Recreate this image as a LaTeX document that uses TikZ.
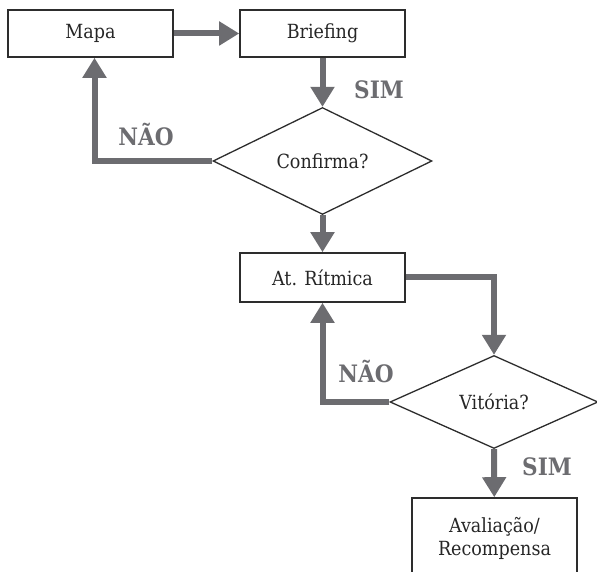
\documentclass[tikz,border=0pt]{standalone}
\usepackage{fontspec}
\setmainfont{DejaVu Serif Condensed}
\usepackage{tikz}
\usetikzlibrary{arrows.meta,calc,shapes.geometric}

\definecolor{flowgray}{RGB}{108,108,112}
\definecolor{edgegray}{RGB}{45,45,45}

\begin{document}
\begin{tikzpicture}[x=1pt,y=1pt,>={Triangle[width=23pt,length=20pt]},
    box/.style={draw=edgegray,line width=1.6pt,fill=white,text=black!85,
                minimum width=165pt,minimum height=47pt,inner sep=0pt,
                font=\fontsize{19.5}{23}\selectfont,align=center},
    decision/.style={diamond,draw=edgegray,line width=1.3pt,fill=white,text=black!85,
                inner sep=0pt,font=\fontsize{19.5}{23}\selectfont},
    flow/.style={->,draw=flowgray,line width=6pt},
    answer/.style={text=flowgray,font=\fontsize{24}{28}\selectfont\bfseries}]
  \useasboundingbox (0,0) rectangle (597,572);

  % blocks
  \node[box] (mapa) at (90.5,538.5) {Mapa};
  \node[box] (briefing) at (322.5,538.5) {Briefing};
  \node[decision,minimum width=219pt,minimum height=92pt] (confirma) at (322.5,411) {Confirma?};
  \node[box,minimum height=49pt] (ritmica) at (322.5,294.5) {At. Rítmica};
  \node[decision,minimum width=208pt,minimum height=93pt] (vitoria) at (494,170) {Vitória?};
  \node[box,minimum height=80pt] (avaliacao) at (494.5,34) {Avaliação/\\Recompensa};

  % connectors
  \draw[flow] (mapa) -- (briefing);
  \draw[flow] (briefing) -- (confirma.north);
  \draw[flow] (confirma.west) -| ($(mapa.south)+(4,0)$);
  \draw[flow] (confirma.south) -- (ritmica);
  \draw[flow] (ritmica.east) -| (vitoria.north);
  \draw[flow] (vitoria.west) -| (ritmica.south);
  \draw[flow] (vitoria.south) -- (avaliacao);

  % answers
  \node[answer] (sim1) at (379,482) {SIM};
  \node[answer] (nao1) at (146,437) {NÃO};
  \node[answer] (nao2) at (366,200) {NÃO};
  \node[answer] (sim2) at (547,105) {SIM};
\end{tikzpicture}
\end{document}
